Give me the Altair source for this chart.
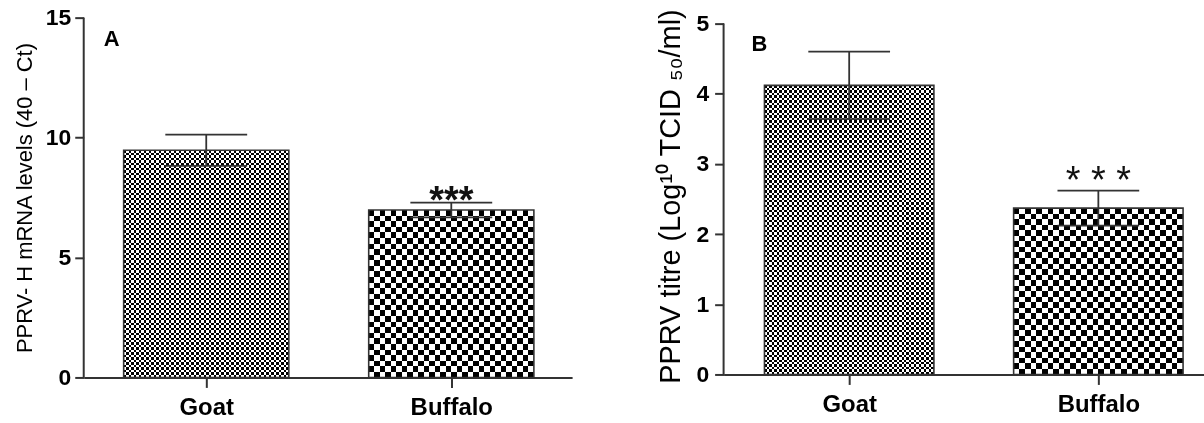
import altair as alt
import pandas as pd

# ---- data ----
animals = ["Goat", "Buffalo"]
mrna_mean = [9.47, 6.98]          # panel A, PPRV-H mRNA levels (40 - Ct)
mrna_sem = [0.65, 0.31]
titre_mean = [4.12, 2.37]         # panel B, PPRV titre (log10 TCID50/ml)
titre_sem = [0.48, 0.25]
stars_a = ["", "***"]
stars_b = ["", "* * *"]

FONT = "Liberation Sans"
DARK = "#333333"
# checker cell size (px) for each animal's fill pattern
cell_px = {"Goat": 2.5, "Buffalo": 5.6}


def make_df(means, sems, stars, half, cap):
    return pd.DataFrame({
        "animal": animals,
        "idx": list(range(len(animals))),
        "mean": means,
        "zero": [0.0] * len(animals),
        "lo": [m - s for m, s in zip(means, sems)],
        "hi": [m + s for m, s in zip(means, sems)],
        "x0": [i - half for i in range(len(animals))],
        "x1": [i + half for i in range(len(animals))],
        "c0": [i - cap for i in range(len(animals))],
        "c1": [i + cap for i in range(len(animals))],
        "star": stars,
    })


def stripes(n):
    stops = []
    for k in range(n):
        c = "#000000" if k % 2 == 0 else "#ffffff"
        stops.append(alt.GradientStop(offset=k / n, color=c))
        stops.append(alt.GradientStop(offset=(k + 1) / n, color=c))
    return stops


def panel(df, w, h, xdom, ydom, yvals, ytitle, title_pad, label_pad, letter, star_font, star_weight, star_dy, half):
    xs = alt.Scale(domain=xdom, nice=False, zero=False)
    ys = alt.Scale(domain=ydom, nice=False)
    px_x = w / (xdom[1] - xdom[0])
    px_y = h / (ydom[1] - ydom[0])
    label_expr = "[" + ",".join("'%s'" % a for a in animals) + "][datum.value]"
    x_axis = alt.Axis(values=list(range(len(animals))), labelExpr=label_expr, title=None, grid=False,
                      tickSize=10, tickWidth=2, tickColor=DARK, domainColor=DARK, domainWidth=2,
                      labelFont=FONT, labelFontSize=24, labelFontWeight="bold", labelColor="#000",
                      labelPadding=8)
    y_axis = alt.Axis(values=yvals, format="d", title=ytitle, grid=False, domain=False,
                      tickSize=9, tickWidth=2, tickColor=DARK,
                      labelFont=FONT, labelFontSize=23, labelFontWeight="bold", labelColor="#000",
                      labelPadding=label_pad, titleFont=FONT, titleFontSize=title_pad[1],
                      titleFontWeight="normal", titleColor="#000", titlePadding=title_pad[0])
    base = alt.Chart(df)
    layers = []
    # axis line for y (from 0 to top tick)
    layers.append(alt.Chart(pd.DataFrame({"a": [yvals[0]], "b": [yvals[-1]]})).mark_rule(
        color=DARK, strokeWidth=2).encode(
        x=alt.value(0), y=alt.Y("a:Q", scale=ys, axis=y_axis), y2="b:Q"))
    for a in animals:
        row = df[df.animal == a].iloc[0]
        ncol = max(1, round(2 * half * px_x / cell_px[a]))
        nrow = max(1, round(row["mean"] * px_y / cell_px[a]))
        gv = alt.LinearGradient(gradient="linear", stops=stripes(ncol), x1=0, x2=1, y1=0, y2=0)
        gh = alt.LinearGradient(gradient="linear", stops=stripes(nrow), x1=0, x2=0, y1=0, y2=1)
        sub = base.transform_filter(alt.datum.animal == a)
        enc = dict(x=alt.X("x0:Q", scale=xs, axis=x_axis), x2="x1:Q",
                   y=alt.Y("mean:Q", scale=ys), y2="zero:Q")
        layers.append(sub.mark_rect(fill=gv, strokeWidth=0).encode(**enc))
        layers.append(sub.mark_rect(fill=gh, strokeWidth=0, blend="difference").encode(**enc))
    # bar outlines
    layers.append(base.mark_rect(fill="transparent", stroke=DARK, strokeWidth=1.6).encode(
        x=alt.X("x0:Q", scale=xs, axis=x_axis), x2="x1:Q", y=alt.Y("mean:Q", scale=ys), y2="zero:Q"))
    # error bars
    layers.append(base.mark_rule(color=DARK, strokeWidth=1.8).encode(
        x=alt.X("idx:Q", scale=xs, axis=x_axis), y=alt.Y("lo:Q", scale=ys), y2="hi:Q"))
    layers.append(base.mark_rule(color=DARK, strokeWidth=1.8).encode(
        x=alt.X("c0:Q", scale=xs, axis=x_axis), x2="c1:Q", y=alt.Y("hi:Q", scale=ys)))
    layers.append(base.mark_rule(color=DARK, strokeWidth=1.8).encode(
        x=alt.X("c0:Q", scale=xs, axis=x_axis), x2="c1:Q", y=alt.Y("lo:Q", scale=ys)))
    # significance stars
    layers.append(base.transform_filter(alt.datum.star != "").mark_text(
        font=FONT, fontSize=star_font, fontWeight=star_weight, baseline="alphabetic",
        align="center", dy=star_dy, color="#111").encode(
        x=alt.X("idx:Q", scale=xs, axis=x_axis), y=alt.Y("hi:Q", scale=ys), text="star:N"))
    # panel letter
    layers.append(alt.Chart(pd.DataFrame({"t": [letter[0]]})).mark_text(
        font=FONT, fontSize=22, fontWeight="bold", align="left", baseline="alphabetic", color="#000").encode(
        x=alt.value(letter[1]), y=alt.value(letter[2]), text="t:N"))
    return alt.layer(*layers).properties(width=w, height=h)


half_a, cap_a = 0.337, 0.167
half_b, cap_b = 0.34, 0.164
df_a = make_df(mrna_mean, mrna_sem, stars_a, half_a, cap_a)
df_b = make_df(titre_mean, titre_sem, stars_b, half_b, cap_b)

pa = panel(df_a, 490, 361, [-0.5, 1.493], [0, 15], [0, 5, 10, 15],
           "PPRV- H mRNA levels (40 \u2013 Ct)", (9, 22), 4, ("A", 20, 28), 38, "bold", 10, half_a)
pb = panel(df_b, 482, 358, [-0.504, 1.424], [0, 5.085], [0, 1, 2, 3, 4, 5],
           "PPRV titre (Log\u00b9\u2070 TCID \u2085\u2080/ml)", (10, 29), 6, ("B", 28, 33), 38, "normal", 2, half_b)

chart = alt.hconcat(pa, pb, spacing=152, bounds="flush").properties(
    padding={"left": 13, "top": 6, "right": 0, "bottom": 0},
    background="white",
).configure_view(stroke=None)

chart.save("out.html", embed_options={"renderer": "svg", "actions": False})
